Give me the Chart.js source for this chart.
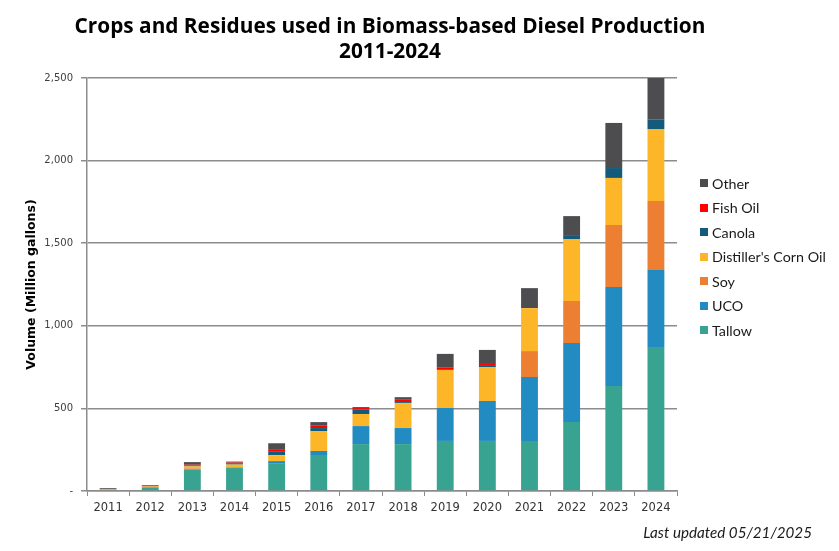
<!DOCTYPE html>
<html>
<head>
<meta charset="utf-8">
<script src="https://cdn.jsdelivr.net/npm/chart.js@4.4.1/dist/chart.umd.min.js"></script>
<style>
    html, body { margin: 0; padding: 0; background: #ffffff; }
    #wrap { position: relative; width: 839px; height: 551px; overflow: hidden; }
    #chart { position: absolute; left: 0; top: 0; }
    .title {
        position: absolute; left: 0; width: 780px; text-align: center;
        font-family: "Open Sans", Lato, sans-serif; font-weight: 700; font-size: 20.8px;
        color: #000; line-height: 25px; top: 13px;
    }
    #legend { position: absolute; left: 700px; top: 171px; font-family: Lato, "Open Sans", sans-serif; font-size: 14.3px; color: #1a1a1a; }
    .legend-item { height: 24.5px; display: flex; align-items: center; white-space: nowrap; }
    .legend-box { width: 8px; height: 8px; margin-right: 4px; }
    .note {
        position: absolute; right: 27px; top: 523px;
        font-family: Lato, "Open Sans", sans-serif; font-style: italic; font-size: 15.2px; color: #1a1a1a;
    }
</style>
</head>
<body>
<div id="wrap">
    <canvas id="chart" width="839" height="551"></canvas>
    <div class="title">Crops and Residues used in Biomass-based Diesel Production<br>2011-2024</div>
    <div id="legend"></div>
    <div class="note">Last updated 05/21/2025</div>
</div>
<script>
// Dados (milhões de galões)
const years = ['2011', '2012', '2013', '2014', '2015', '2016', '2017', '2018', '2019', '2020', '2021', '2022', '2023', '2024'];
const tallow   = [5, 20, 131, 139, 165, 218, 284, 284, 303, 303, 303, 418, 636, 872];
const uco      = [0, 3, 0, 3, 16, 24, 109, 97, 200, 242, 387, 478, 599, 466];
const soy      = [5, 5, 6, 0, 0, 0, 0, 0, 0, 0, 157, 254, 375, 418];
const dco      = [2, 2, 12, 18, 36, 121, 73, 151, 230, 204, 260, 375, 285, 435];
const canola   = [0, 2, 6, 8, 24, 18, 28, 6, 0, 8, 0, 24, 60, 59];
const fishOil  = [0, 0, 4, 4, 8, 14, 8, 14, 16, 12, 0, 0, 0, 0];
const other    = [5, 4, 16, 6, 40, 22, 6, 16, 81, 85, 121, 115, 273, 250];
const yTicks   = [0, 500, 1000, 1500, 2000, 2500];

const series = [
    { label: 'Tallow', data: tallow, color: '#38A391' },
    { label: 'UCO', data: uco, color: '#218BC2' },
    { label: 'Soy', data: soy, color: '#ED7F33' },
    { label: "Distiller's Corn Oil", data: dco, color: '#FDB628' },
    { label: 'Canola', data: canola, color: '#145A7A' },
    { label: 'Fish Oil', data: fishOil, color: '#FF0000' },
    { label: 'Other', data: other, color: '#4D4D4F' }
];

// Legenda em HTML (ordem invertida, como no original)
const legendEl = document.getElementById('legend');
legendEl.innerHTML = series.slice().reverse().map(s => `
    <div class="legend-item"><span class="legend-box" style="background:${s.color}"></span>${s.label}</div>
`).join('');

const axisColor = '#8C8C8C';

new Chart(document.getElementById('chart'), {
    type: 'bar',
    data: {
        labels: years,
        datasets: series.map(s => ({
            label: s.label,
            data: s.data,
            backgroundColor: s.color,
            borderWidth: 0,
            categoryPercentage: 1,
            barPercentage: 0.4
        }))
    },
    options: {
        responsive: false,
        animation: false,
        devicePixelRatio: 1,
        layout: { padding: { left: 0, right: 162, top: 78, bottom: 30 } },
        plugins: {
            legend: { display: false },
            tooltip: { enabled: false }
        },
        scales: {
            x: {
                stacked: true,
                border: { color: axisColor, width: 1.5 },
                grid: { drawOnChartArea: false, drawTicks: true, tickLength: 5, color: axisColor, lineWidth: 1, offset: true },
                ticks: { color: '#333', padding: 5, font: { family: 'DejaVu Sans', size: 11.5 }, maxRotation: 0 },
                afterFit: scale => { scale.height = 30; }
            },
            y: {
                stacked: true,
                min: 0,
                max: 2500,
                afterBuildTicks: scale => { scale.ticks = yTicks.map(v => ({ value: v })); },
                border: { color: axisColor, width: 1.5 },
                grid: { color: axisColor, lineWidth: 1.5, tickLength: 6 },
                ticks: {
                    color: '#404040',
                    padding: 8,
                    font: { family: 'DejaVu Sans', size: 10 },
                    callback: v => v === 0 ? '-' : v.toLocaleString('en-US')
                },
                title: {
                    display: true,
                    text: 'Volume (Million gallons)',
                    color: '#000',
                    font: { family: 'DejaVu Sans', weight: 'bold', size: 12.5 },
                    padding: { top: 24, bottom: 0 }
                },
                afterFit: scale => { scale.width = 87; }
            }
        }
    }
});
</script>
</body>
</html>
